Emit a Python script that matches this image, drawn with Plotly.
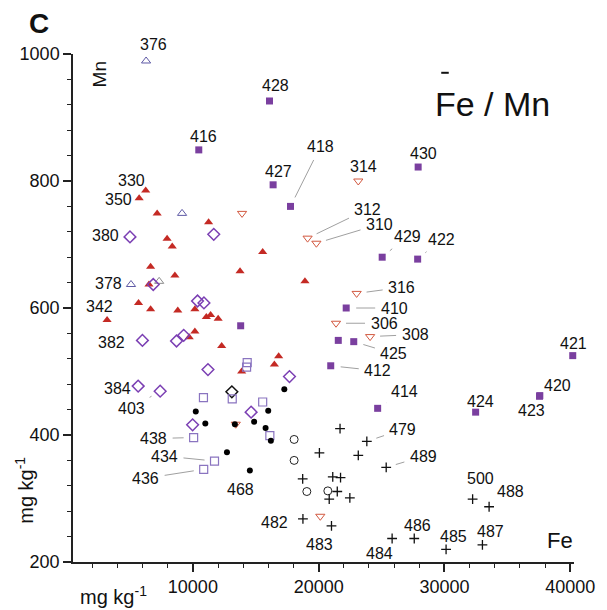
import plotly.graph_objects as go

# Fe (x) and Mn (y) contents, mg/kg
sq_ids = ["428", "416", "427", "418", "430", "429", "422", "410", "", "425", "412", "414", "", "421", "420", "423", "424"]
sq_fe = [16090, 10470, 16380, 17760, 27910, 25050, 27870, 22190, 21560, 22790, 20960, 24690, 13800, 40200, 37580, 37560, 32480]
sq_mn = [926, 849, 794, 760, 822, 680, 677, 600, 549, 547, 509, 442, 572, 525, 462, 461, 436]

tri_ids = ["330", "350", "", "", "", "", "", "", "", "", "", "", "", "", "342", "", "", "", "", "", "", "", "", "", "", ""]
tri_fe = [6250, 5730, 7160, 11250, 7950, 8360, 6640, 8570, 13750, 6510, 5680, 6640, 8800, 10160, 3180,
          11070, 11410, 12010, 10160, 9710, 12290, 13880, 16480, 15550, 18910, 16820]
tri_mn = [785, 773, 749, 735, 709, 697, 665, 651, 658, 637, 608, 598, 596, 598, 581,
          586, 589, 583, 563, 554, 540, 500, 511, 688, 642, 524]

tdn_ids = ["314", "", "312", "310", "316", "306", "308", "", ""]
tdn_fe = [23150, 13910, 19120, 19820, 23020, 21380, 24090, 13410, 20130]
tdn_mn = [800, 749, 710, 702, 623, 576, 555, 417, 272]

tup_ids = ["376", "", "378"]
tup_fe = [6280, 9140, 5080]
tup_mn = [989, 749, 637]

tgrey_fe = [7320]
tgrey_mn = [642]

dia_ids = ["380", "", "", "", "", "382", "", "", "", "384", "403", "", "", ""]
dia_fe = [5000, 11660, 6850, 10370, 10880, 5990, 8700, 9270, 11200, 5650, 7400, 9980, 14630, 17680]
dia_mn = [712, 716, 637, 611, 608, 549, 548, 557, 503, 477, 469, 416, 436, 492]

bdia_fe = [13100]
bdia_mn = [468]

osq_ids = ["", "", "", "", "", "", "438", "434", "436"]
osq_fe = [14320, 14270, 10840, 13130, 15550, 16120, 10060, 11720, 10860]
osq_mn = [514, 507, 459, 457, 452, 399, 396, 359, 346]

dot_ids = ["", "", "", "", "", "", "", "", "468", ""]
dot_fe = [10230, 10990, 13340, 14870, 15990, 15780, 16200, 12710, 14530, 17270]
dot_mn = [437, 418, 417, 421, 438, 411, 391, 373, 344, 472]

ocirc_fe = [18050, 18050, 19060, 20730]
ocirc_mn = [393, 360, 311, 312]

plus_ids = ["", "", "479", "", "489", "", "", "", "", "", "", "482", "483", "484", "486", "485", "487", "500", "488"]
plus_fe = [21700, 20060, 23830, 23150, 25370, 18730, 21120, 21740, 21480, 20840, 22480,
           18750, 21020, 25840, 27600, 30130, 33020, 32240, 33550]
plus_mn = [410, 372, 390, 368, 349, 331, 334, 333, 311, 299, 301,
           268, 257, 237, 237, 220, 227, 299, 287]

# label placement: pixel offset of the label centre from its point, leader line or not
label_pos = {
    "376": (7, -16, False), "428": (6, -15, False), "416": (5, -13, False), "427": (5, -13, False),
    "418": (30, -60, True), "314": (5, -15, False), "312": (60, -29, True), "310": (63, -19, True),
    "429": (25, -21, True), "422": (24, -20, True), "430": (5, -14, False), "316": (45, -6, True),
    "410": (48, 0, True), "306": (48, 0, True), "308": (45, -2, True), "425": (40, 12, True),
    "412": (47, 5, True), "414": (27, -17, True), "479": (36, -12, True), "489": (37, -11, True),
    "421": (1, -12, False), "420": (18, -10, False), "423": (-8, 14, False), "424": (5, -11, False),
    "500": (8, -21, False), "488": (21, -15, False), "486": (3, -13, False), "485": (7, -13, False),
    "487": (8, -13, False), "484": (-13, 15, False), "483": (-12, 19, False), "482": (-28, 4, False),
    "468": (-9, 19, False), "330": (-14, -10, False), "350": (-21, 1, False), "380": (-24, -1, False),
    "378": (-22, -1, False), "342": (-8, -14, False), "382": (-31, 2, False), "384": (-21, 2, False),
    "403": (-29, 17, True), "438": (-40, 1, True), "434": (-50, -5, True), "436": (-58, 9, True),
}

FONT = "Arial, Liberation Sans, sans-serif"

fig = go.Figure()

def add(fe, mn, symbol, size, color, lw=1.0):
    fig.add_trace(go.Scatter(
        x=fe, y=mn, mode="markers", cliponaxis=False, showlegend=False,
        marker=dict(symbol=symbol, size=size, color=color, line=dict(width=lw, color=color)),
    ))

add(sq_fe, sq_mn, "square", 7, "#7a3f9f", 0)
add(tri_fe, tri_mn, "triangle-up", 8, "#c42a24", 0)
add(tdn_fe, tdn_mn, "triangle-down-open", 8, "#d2583f", 1)
add(tup_fe, tup_mn, "triangle-up-open", 8, "#5f5aa6", 1)
add(tgrey_fe, tgrey_mn, "triangle-up-open", 8, "#8c8c8c", 1)
add(dia_fe, dia_mn, "diamond-open", 9, "#7b3fb3", 1.5)
add(bdia_fe, bdia_mn, "diamond-open", 9, "#111111", 1.5)
add(osq_fe, osq_mn, "square-open", 8, "#8a74c0", 1.2)
add(dot_fe, dot_mn, "circle", 6, "#000000", 0)
add(ocirc_fe, ocirc_mn, "circle-open", 8, "#222222", 1)
add(plus_fe, plus_mn, "cross-thin-open", 7, "#111111", 1.3)

annotations = []
for ids, fe, mn in [(sq_ids, sq_fe, sq_mn), (tri_ids, tri_fe, tri_mn), (tdn_ids, tdn_fe, tdn_mn),
                    (tup_ids, tup_fe, tup_mn), (dia_ids, dia_fe, dia_mn), (osq_ids, osq_fe, osq_mn),
                    (dot_ids, dot_fe, dot_mn), (plus_ids, plus_fe, plus_mn)]:
    for name, x, y in zip(ids, fe, mn):
        if not name:
            continue
        dx, dy, leader = label_pos[name]
        a = dict(x=x, y=y, text=name, font=dict(size=16, color="#111", family=FONT))
        if leader:
            a.update(showarrow=True, ax=dx, ay=dy, arrowhead=0, arrowwidth=1,
                     arrowcolor="#a0a0a0", standoff=10, startstandoff=4)
        else:
            a.update(showarrow=False, xshift=dx, yshift=-dy)
        annotations.append(a)

def ptext(text, x, y, size, angle=0, bold=False):
    annotations.append(dict(
        xref="paper", yref="paper", x=x, y=y, text=f"<b>{text}</b>" if bold else text,
        showarrow=False, textangle=angle, xanchor="center", yanchor="middle",
        font=dict(size=size, color="#111", family=FONT)))

ptext("C", -0.067, 1.061, 28, bold=True)
ptext("Mn", 0.053, 0.959, 19, angle=-90)
ptext("mg kg<sup>-1</sup>", -0.096, 0.142, 20, angle=-90)
ptext("mg kg<sup>-1</sup>", 0.081, -0.065, 20)
ptext("Fe / Mn", 0.837, 0.902, 34)
ptext("Fe", 0.9725, 0.043, 22)

axis_style = dict(showgrid=False, zeroline=False, showline=True, linecolor="#222", linewidth=1.5,
                  ticks="outside", ticklen=8, tickwidth=1.5, tickcolor="#222", tickformat="d",
                  tickfont=dict(size=18, color="#111", family=FONT))

# the page body keeps an 8px margin, so the figure is drawn 8px smaller each way
fig.update_layout(
    width=599, height=602,
    margin=dict(l=63, r=26, t=46, b=48),
    paper_bgcolor="white", plot_bgcolor="white",
    annotations=annotations,
    shapes=[dict(type="line", xref="paper", yref="paper", x0=0.735, x1=0.750, y0=0.963, y1=0.963,
                 line=dict(color="#111", width=2))],
    xaxis=dict(range=[470, 40300], tick0=0, dtick=10000,
               minor=dict(ticks="outside", ticklen=4, tickwidth=1, tickcolor="#222", tick0=0, dtick=2000),
               **axis_style),
    yaxis=dict(range=[200, 1000], tick0=0, dtick=200,
               minor=dict(ticks="outside", ticklen=4, tickwidth=1, tickcolor="#222", tick0=0, dtick=40),
               **axis_style),
)

fig.write_html("out.html")
